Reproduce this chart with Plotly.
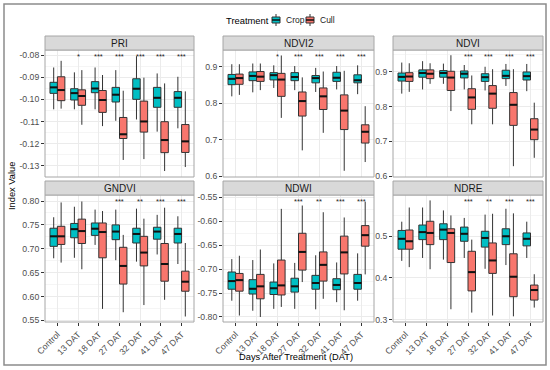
import plotly.graph_objects as go

categories = ["Control", "13 DAT", "18 DAT", "27 DAT", "32 DAT", "41 DAT", "47 DAT"]
panels = ["PRI", "NDVI2", "NDVI", "GNDVI", "NDWI", "NDRE"]
groups = ["Crop", "Cull"]

# (lower whisker, q1, median, q3, upper whisker) per category
pri_crop = [(-0.1045, -0.0973, -0.0946, -0.0923, -0.0856), (-0.1045, -0.1003, -0.0972, -0.0952, -0.0878),
            (-0.1045, -0.0970, -0.0951, -0.0920, -0.0856), (-0.1097, -0.1012, -0.0979, -0.0946, -0.0868),
            (-0.1091, -0.1000, -0.0952, -0.0907, -0.0805), (-0.1146, -0.1036, -0.0993, -0.0946, -0.0883),
            (-0.1131, -0.1036, -0.0993, -0.0965, -0.0898)]
pri_cull = [(-0.1042, -0.1006, -0.0958, -0.0898, -0.0826), (-0.1115, -0.1027, -0.0985, -0.0957, -0.0868),
            (-0.1121, -0.1059, -0.1003, -0.0960, -0.0890), (-0.1274, -0.1177, -0.1158, -0.1082, -0.0961),
            (-0.1270, -0.1148, -0.1100, -0.1008, -0.0902), (-0.1324, -0.1241, -0.1184, -0.1101, -0.0928),
            (-0.1306, -0.1240, -0.1190, -0.1114, -0.0964)]
ndvi2_crop = [(0.819, 0.851, 0.867, 0.879, 0.907), (0.830, 0.862, 0.875, 0.886, 0.909),
              (0.842, 0.864, 0.877, 0.884, 0.904), (0.836, 0.862, 0.872, 0.884, 0.902),
              (0.831, 0.856, 0.869, 0.876, 0.897), (0.838, 0.860, 0.870, 0.885, 0.902),
              (0.825, 0.856, 0.863, 0.878, 0.904)]
ndvi2_cull = [(0.823, 0.852, 0.869, 0.880, 0.907), (0.836, 0.860, 0.873, 0.887, 0.909),
              (0.760, 0.819, 0.865, 0.882, 0.931), (0.671, 0.765, 0.806, 0.831, 0.871),
              (0.719, 0.783, 0.819, 0.842, 0.887), (0.615, 0.728, 0.780, 0.823, 0.889),
              (0.639, 0.691, 0.722, 0.741, 0.792)]
ndvi_crop = [(0.837, 0.873, 0.885, 0.896, 0.926), (0.849, 0.884, 0.896, 0.905, 0.930),
             (0.865, 0.884, 0.896, 0.903, 0.923), (0.849, 0.882, 0.894, 0.902, 0.919),
             (0.846, 0.872, 0.884, 0.894, 0.914), (0.859, 0.880, 0.888, 0.904, 0.922),
             (0.844, 0.876, 0.887, 0.899, 0.922)]
ndvi_cull = [(0.842, 0.872, 0.886, 0.897, 0.924), (0.865, 0.880, 0.894, 0.905, 0.924),
             (0.787, 0.846, 0.883, 0.901, 0.947), (0.749, 0.792, 0.826, 0.851, 0.889),
             (0.749, 0.795, 0.837, 0.860, 0.907), (0.629, 0.746, 0.805, 0.840, 0.907),
             (0.653, 0.705, 0.734, 0.765, 0.811)]
gndvi_crop = [(0.680, 0.705, 0.726, 0.743, 0.766), (0.681, 0.723, 0.741, 0.753, 0.788),
              (0.708, 0.728, 0.742, 0.754, 0.782), (0.676, 0.719, 0.736, 0.750, 0.782),
              (0.673, 0.712, 0.731, 0.743, 0.784), (0.688, 0.720, 0.736, 0.745, 0.771),
              (0.668, 0.712, 0.731, 0.743, 0.768)]
gndvi_cull = [(0.671, 0.709, 0.726, 0.747, 0.797), (0.657, 0.711, 0.737, 0.762, 0.799),
              (0.574, 0.681, 0.735, 0.754, 0.779), (0.567, 0.626, 0.664, 0.703, 0.729),
              (0.582, 0.664, 0.692, 0.726, 0.763), (0.593, 0.632, 0.668, 0.711, 0.786),
              (0.558, 0.611, 0.631, 0.653, 0.712)]
ndwi_crop = [(-0.766, -0.742, -0.725, -0.706, -0.679), (-0.787, -0.752, -0.741, -0.722, -0.681),
             (-0.783, -0.753, -0.740, -0.727, -0.688), (-0.783, -0.748, -0.736, -0.719, -0.687),
             (-0.784, -0.742, -0.729, -0.713, -0.671), (-0.769, -0.743, -0.733, -0.720, -0.686),
             (-0.766, -0.742, -0.729, -0.711, -0.667)]
ndwi_cull = [(-0.797, -0.746, -0.723, -0.709, -0.672), (-0.800, -0.762, -0.736, -0.711, -0.659),
             (-0.779, -0.754, -0.734, -0.681, -0.574), (-0.727, -0.702, -0.664, -0.625, -0.567),
             (-0.762, -0.725, -0.691, -0.664, -0.581), (-0.786, -0.710, -0.665, -0.631, -0.592),
             (-0.711, -0.652, -0.629, -0.609, -0.559)]
ndre_crop = [(0.441, 0.469, 0.494, 0.514, 0.535), (0.448, 0.492, 0.510, 0.527, 0.569),
             (0.444, 0.492, 0.516, 0.530, 0.562), (0.448, 0.488, 0.506, 0.522, 0.544),
             (0.422, 0.474, 0.496, 0.512, 0.552), (0.431, 0.480, 0.500, 0.518, 0.566),
             (0.448, 0.477, 0.494, 0.508, 0.535)]
ndre_cull = [(0.426, 0.469, 0.488, 0.515, 0.569), (0.421, 0.480, 0.508, 0.536, 0.586),
             (0.325, 0.437, 0.508, 0.518, 0.550), (0.317, 0.369, 0.414, 0.464, 0.492),
             (0.310, 0.411, 0.442, 0.484, 0.554), (0.308, 0.355, 0.403, 0.458, 0.555),
             (0.329, 0.347, 0.371, 0.383, 0.409)]

# significance labels per category
pri_sig = ["", "*", "***", "***", "***", "***", "***"]
ndvi2_sig = ["", "", "*", "***", "***", "***", "***"]
ndvi_sig = ["", "", "", "***", "***", "***", "***"]
gndvi_sig = ["", "", "", "***", "**", "***", "***"]
ndwi_sig = ["", "", "", "***", "**", "***", "***"]
ndre_sig = ["", "", "", "***", "**", "***", "***"]

# y tick values per panel
pri_ticks = [-0.08, -0.09, -0.10, -0.11, -0.12, -0.13]
ndvi2_ticks = [0.6, 0.7, 0.8, 0.9]
ndvi_ticks = [0.6, 0.7, 0.8, 0.9]
gndvi_ticks = [0.55, 0.60, 0.65, 0.70, 0.75, 0.80]
ndwi_ticks = [-0.55, -0.60, -0.65, -0.70, -0.75, -0.80]
ndre_ticks = [0.3, 0.4, 0.5]

panel_data = {
    "PRI": (pri_crop, pri_cull, pri_sig, pri_ticks),
    "NDVI2": (ndvi2_crop, ndvi2_cull, ndvi2_sig, ndvi2_ticks),
    "NDVI": (ndvi_crop, ndvi_cull, ndvi_sig, ndvi_ticks),
    "GNDVI": (gndvi_crop, gndvi_cull, gndvi_sig, gndvi_ticks),
    "NDWI": (ndwi_crop, ndwi_cull, ndwi_sig, ndwi_ticks),
    "NDRE": (ndre_crop, ndre_cull, ndre_sig, ndre_ticks),
}

# ---- styling / layout (pixels in a 550x370 canvas) ----
W, H = 550, 370
yranges = {"PRI": [-0.1351, -0.0777], "NDVI2": [0.598, 0.946], "NDVI": [0.598, 0.962],
           "GNDVI": [0.5465, 0.8126], "NDWI": [-0.8105, -0.545], "NDRE": [0.2944, 0.599]}
tickfmt = {"PRI": "{:.2f}", "NDVI2": "{:.1f}", "NDVI": "{:.1f}", "GNDVI": "{:.2f}",
           "NDWI": "{:.2f}", "NDRE": "{:.1f}"}
col_px = [(45, 194), (223, 374), (393, 543)]
row_px = [(50, 177), (195, 322)]
strip_h = 14
colors = {"Crop": "#00BFC4", "Cull": "#F8766D"}
offsets = {"Crop": -0.18, "Cull": 0.18}
bw = 0.36
outline = "#333333"
FONT = "Liberation Sans, Arial, sans-serif"
tick_font = dict(size=8.7, color="#4d4d4d", family=FONT)

fig = go.Figure()
shapes, annotations = [], []
idx = list(range(len(categories)))


def px(x, y):
    return x / W, 1 - y / H


for p, name in enumerate(panels):
    n = p + 1
    r, c = divmod(p, 3)
    xa = "x" if n == 1 else f"x{n}"
    ya = "y" if n == 1 else f"y{n}"
    crop, cull, sig, ticks = panel_data[name]
    for g, stats in zip(groups, (crop, cull)):
        xs = [i + offsets[g] for i in idx]
        fig.add_trace(go.Box(
            x=xs,
            lowerfence=[s[0] for s in stats], q1=[s[1] for s in stats],
            median=[s[2] for s in stats], q3=[s[3] for s in stats],
            upperfence=[s[4] for s in stats],
            width=bw, whiskerwidth=0, fillcolor=colors[g],
            line=dict(color=outline, width=1), boxpoints=False,
            name=g, legendgroup=g, showlegend=False,
            xaxis=xa, yaxis=ya, hoverinfo="skip"))
        # thicker median lines
        mx, my = [], []
        for i, s in zip(xs, stats):
            mx += [i - bw / 2, i + bw / 2, None]
            my += [s[2], s[2], None]
        fig.add_trace(go.Scatter(x=mx, y=my, mode="lines", line=dict(color="#111111", width=2),
                                 showlegend=False, xaxis=xa, yaxis=ya, hoverinfo="skip"))
    x0, x1 = col_px[c]
    y0, y1 = row_px[r]
    dx = [x0 / W, x1 / W]
    dy = [1 - y1 / H, 1 - y0 / H]
    step = abs(ticks[1] - ticks[0])
    minor_vals = [(ticks[k] + ticks[k + 1]) / 2 for k in range(len(ticks) - 1)]
    minor_vals += [min(ticks) - step / 2, max(ticks) + step / 2]
    fig.layout[xa.replace("x", "xaxis")] = dict(
        domain=dx, range=[-0.6, 6.6], anchor=ya, tickmode="array", tickvals=idx,
        ticktext=categories, showticklabels=(r == 1), ticks="outside" if r == 1 else "",
        ticklen=3, tickcolor="#333333", tickangle=-45, automargin=False,
        tickfont=tick_font, showgrid=True, gridcolor="#ebebeb",
        gridwidth=1, zeroline=False, showline=False, fixedrange=True)
    fig.layout[ya.replace("y", "yaxis")] = dict(
        domain=dy, range=yranges[name], anchor=xa, tickmode="array", tickvals=ticks,
        ticktext=[tickfmt[name].format(t) for t in ticks], ticks="outside", ticklen=3,
        tickcolor="#333333", tickfont=tick_font, automargin=False,
        showgrid=True, gridcolor="#ebebeb", gridwidth=1, zeroline=False, showline=False,
        minor=dict(tickmode="array", tickvals=minor_vals, showgrid=True,
                   gridcolor="#f5f5f5", gridwidth=0.6, ticks=""),
        fixedrange=True)
    # panel border
    shapes.append(dict(type="rect", xref=f"{xa} domain", yref=f"{ya} domain", x0=0, x1=1,
                       y0=0, y1=1, line=dict(color="#a6a6a6", width=1), layer="above"))
    # strip
    shapes.append(dict(type="rect", xref="paper", yref="paper", x0=x0 / W, x1=x1 / W,
                       y0=1 - y0 / H, y1=1 - (y0 - strip_h) / H, fillcolor="#d9d9d9",
                       line=dict(color="#a6a6a6", width=1), layer="above"))
    annotations.append(dict(text=name, xref="paper", yref="paper", x=(x0 + x1) / 2 / W,
                            y=1 - (y0 - strip_h / 2) / H, showarrow=False,
                            font=dict(size=10, color="#1a1a1a"), xanchor="center",
                            yanchor="middle"))
    for i, s in zip(idx, sig):
        if s:
            annotations.append(dict(text=s, xref=xa, yref=f"{ya} domain", x=i, y=0.95,
                                    showarrow=False, font=dict(size=7.5, color="#222222"),
                                    xanchor="center", yanchor="middle"))

# axis titles
annotations.append(dict(text="Index Value", xref="paper", yref="paper", x=12 / W,
                        y=1 - 186 / H, textangle=-90, showarrow=False,
                        font=dict(size=9.3, color="#000000"), xanchor="center", yanchor="middle"))
annotations.append(dict(text="Days After Treatment (DAT)", xref="paper", yref="paper",
                        x=296 / W, y=1 - 357 / H, showarrow=False,
                        font=dict(size=9.3, color="#000000"), xanchor="center", yanchor="middle"))

# legend (title + two key glyphs drawn as mini boxes)
annotations.append(dict(text="Treatment", xref="paper", yref="paper", x=224 / W, y=1 - 20 / H,
                        showarrow=False, font=dict(size=9.4, color="#000000"),
                        xanchor="left", yanchor="middle"))
for g, kx, tx in (("Crop", 276, 284), ("Cull", 310, 318)):
    shapes.append(dict(type="line", xref="paper", yref="paper", x0=kx / W, x1=kx / W,
                       y0=1 - 14 / H, y1=1 - 26 / H, line=dict(color=outline, width=1)))
    shapes.append(dict(type="rect", xref="paper", yref="paper", x0=(kx - 4) / W,
                       x1=(kx + 4) / W, y0=1 - 17 / H, y1=1 - 23 / H, fillcolor=colors[g],
                       line=dict(color=outline, width=1)))
    shapes.append(dict(type="line", xref="paper", yref="paper", x0=(kx - 4) / W,
                       x1=(kx + 4) / W, y0=1 - 20 / H, y1=1 - 20 / H,
                       line=dict(color="#111111", width=1.5)))
    annotations.append(dict(text=g, xref="paper", yref="paper", x=tx / W, y=1 - 20 / H,
                            showarrow=False, font=dict(size=8.5, color="#1a1a1a"),
                            xanchor="left", yanchor="middle"))

# outer frame
shapes.append(dict(type="rect", xref="paper", yref="paper", x0=4 / W, x1=546 / W,
                   y0=1 - 365 / H, y1=1 - 4 / H, line=dict(color="#8c8c8c", width=1.5)))

fig.update_layout(
    template="none",
    width=W, height=H, margin=dict(l=0, r=0, t=0, b=0, autoexpand=False),
    paper_bgcolor="white", plot_bgcolor="white",
    font=dict(family=FONT, size=10, color="#1a1a1a"),
    shapes=shapes, annotations=annotations, boxmode="overlay", showlegend=False,
)

fig.write_html("out.html", config={"displayModeBar": False},
               post_script="document.body.style.margin='0px';")
